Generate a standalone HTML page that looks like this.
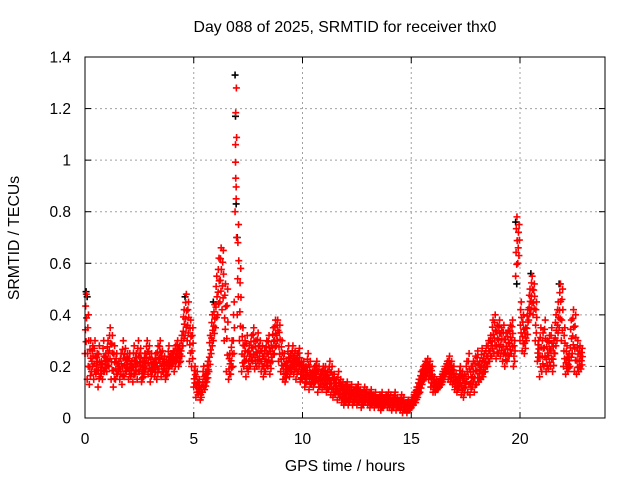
<!DOCTYPE html>
<html><head><meta charset="utf-8"><style>
body{margin:0;background:#fff}
svg{display:block;font-family:"Liberation Sans",sans-serif}
</style></head><body>
<svg id="chart" width="640" height="480" viewBox="0 0 640 480">
<rect width="640" height="480" fill="#fff"/>
<text x="345" y="32" font-size="15.8" text-anchor="middle">Day 088 of 2025, SRMTID for receiver thx0</text>
<text transform="translate(19,238) rotate(-90)" font-size="15.8" text-anchor="middle">SRMTID / TECUs</text>
<text x="345" y="471" font-size="15.8" text-anchor="middle">GPS time / hours</text>
<g id="grid"></g>
<g id="ticks"></g>
<g id="black"></g>
<g id="red"></g>
<rect x="85" y="57" width="520" height="361" fill="none" stroke="#000" stroke-width="1"/>
</svg>
<script>
const xTicks=[0,5,10,15,20];
const yTicks=[0,0.2,0.4,0.6,0.8,1,1.2,1.4];
const yTickLabels=["0","0.2","0.4","0.6","0.8","1","1.2","1.4"];
const step=0.1;
const redHi=[.48,.40,.30,.28,.30,.25,.28,.22,.30,.25,
.30,.35,.32,.28,.25,.22,.25,.30,.27,.25,
.25,.22,.28,.25,.30,.27,.22,.25,.30,.28,
.25,.22,.25,.28,.30,.26,.24,.22,.28,.25,
.26,.28,.30,.28,.32,.42,.48,.45,.38,.35,
.20,.18,.15,.12,.20,.18,.22,.32,.40,.44,
.55,.62,.66,.65,.52,.50,.25,.30,.45,1.28,
.75,.58,.35,.30,.32,.28,.32,.35,.30,.33,
.30,.28,.26,.30,.32,.28,.35,.38,.38,.36,
.30,.25,.22,.28,.25,.28,.26,.25,.27,.22,
.22,.20,.25,.22,.18,.20,.22,.20,.18,.20,
.20,.18,.22,.20,.17,.15,.18,.15,.14,.13,
.14,.12,.13,.11,.12,.13,.11,.10,.12,.11,
.10,.11,.09,.10,.08,.09,.10,.08,.09,.10,
.09,.08,.10,.08,.07,.09,.08,.06,.07,.06,
.08,.10,.12,.15,.18,.20,.22,.23,.22,.20,
.16,.15,.14,.16,.18,.20,.22,.24,.22,.20,
.17,.16,.20,.18,.17,.22,.25,.20,.22,.24,
.26,.22,.27,.25,.28,.30,.32,.38,.40,.36,
.38,.35,.36,.33,.34,.36,.38,.30,.78,.75,
.45,.40,.35,.42,.50,.55,.52,.45,.30,.35,
.33,.38,.30,.32,.35,.30,.40,.45,.52,.50,
.35,.28,.25,.38,.42,.40,.30,.28,.27];
const redLo=[.25,.15,.13,.18,.15,.17,.12,.16,.15,.18,
.18,.20,.15,.12,.15,.17,.15,.13,.16,.18,
.15,.16,.14,.17,.15,.18,.14,.16,.19,.17,
.14,.18,.16,.15,.19,.16,.18,.15,.17,.20,
.20,.18,.22,.20,.22,.28,.32,.30,.22,.20,
.12,.08,.09,.07,.10,.11,.14,.18,.25,.30,
.35,.40,.45,.42,.30,.18,.15,.17,.20,.80,
.40,.30,.18,.20,.16,.18,.20,.22,.19,.20,
.20,.18,.16,.18,.20,.17,.22,.25,.28,.22,
.18,.15,.14,.17,.16,.18,.17,.15,.18,.14,
.15,.12,.14,.11,.13,.12,.14,.10,.12,.11,
.12,.10,.11,.09,.08,.09,.07,.08,.06,.05,
.06,.05,.07,.05,.06,.05,.06,.04,.05,.06,
.05,.04,.05,.04,.05,.04,.03,.04,.05,.04,
.04,.03,.04,.03,.04,.03,.02,.03,.02,.03,
.04,.05,.06,.08,.10,.13,.15,.16,.15,.12,
.10,.10,.11,.12,.13,.15,.17,.15,.14,.13,
.11,.10,.12,.09,.08,.12,.10,.09,.12,.10,
.13,.14,.15,.16,.18,.20,.22,.24,.25,.23,
.25,.24,.22,.20,.22,.24,.25,.20,.55,.60,
.30,.26,.25,.30,.38,.42,.40,.30,.22,.16,
.18,.20,.18,.19,.20,.18,.25,.30,.35,.30,
.20,.17,.18,.20,.25,.18,.17,.18,.19];
const redSpikeX=[6.92,6.93,6.95,6.97];
const redSpikeY=[1.06,0.93,0.85,0.70];
const blackX=[0.05,0.1,4.6,5.9,6.9,6.92,6.95,7.0,19.8,19.85,20.5,21.8];
const blackY=[0.49,0.47,0.47,0.45,1.33,1.17,0.83,0.70,0.76,0.52,0.56,0.52];

const X=h=>85+h*21.75;
const Y=v=>418-v*(361/1.4);
const NS="http://www.w3.org/2000/svg";
function mk(tag,attrs,parent){const e=document.createElementNS(NS,tag);for(const k in attrs)e.setAttribute(k,attrs[k]);parent.appendChild(e);return e;}
const grid=document.getElementById('grid'),ticks=document.getElementById('ticks');
xTicks.forEach(t=>{
  const x=X(t);
  if(t>0){const l=mk('line',{x1:x,x2:x,y1:57,y2:418,stroke:'#a0a0a0','stroke-dasharray':'2,3'},grid);
  
  }
  mk('line',{x1:x,x2:x,y1:418,y2:412,stroke:'#000'},ticks);
  mk('line',{x1:x,x2:x,y1:57,y2:63,stroke:'#000'},ticks);
  const tx=mk('text',{x:x,y:444,'font-size':15.5,'text-anchor':'middle'},ticks);
  tx.textContent=t;
  
  
});
yTicks.forEach((t,i)=>{
  const y=Y(t);
  if(t>0&&t<1.4){const l=mk('line',{x1:85,x2:605,y1:y,y2:y,stroke:'#a0a0a0','stroke-dasharray':'2,3'},grid);
  
  }
  mk('line',{x1:85,x2:91,y1:y,y2:y,stroke:'#000'},ticks);
  mk('line',{x1:605,x2:599,y1:y,y2:y,stroke:'#000'},ticks);
  const tx=mk('text',{x:71,y:y+5.5,'font-size':15.5,'text-anchor':'end'},ticks);
  tx.textContent=yTickLabels[i];
  
  
});
function plus(g,h,v,col){
  const x=X(h),y=Y(v);
  const p=mk('path',{d:`M${x-3.5},${y}h7M${x},${y-3.5}v7`,stroke:col,'stroke-width':1.6,fill:'none'},g);
  
  
}
const blk=document.getElementById('black'),red=document.getElementById('red');
blackX.forEach((h,i)=>plus(blk,h,blackY[i],'#000'));
redHi.forEach((hi,i)=>{
  const lo=redLo[i],h=i*step;
  const fr=[0,0.2,0.4,0.6,0.8,1],dx=[0,0.05,0.02,0.07,0.03,0.06];
  fr.forEach((f,k)=>plus(red,h+dx[k],lo+(hi-lo)*f,'#f00'));
});
redSpikeX.forEach((h,i)=>plus(red,h,redSpikeY[i],'#f00'));
</script>
</body></html>
